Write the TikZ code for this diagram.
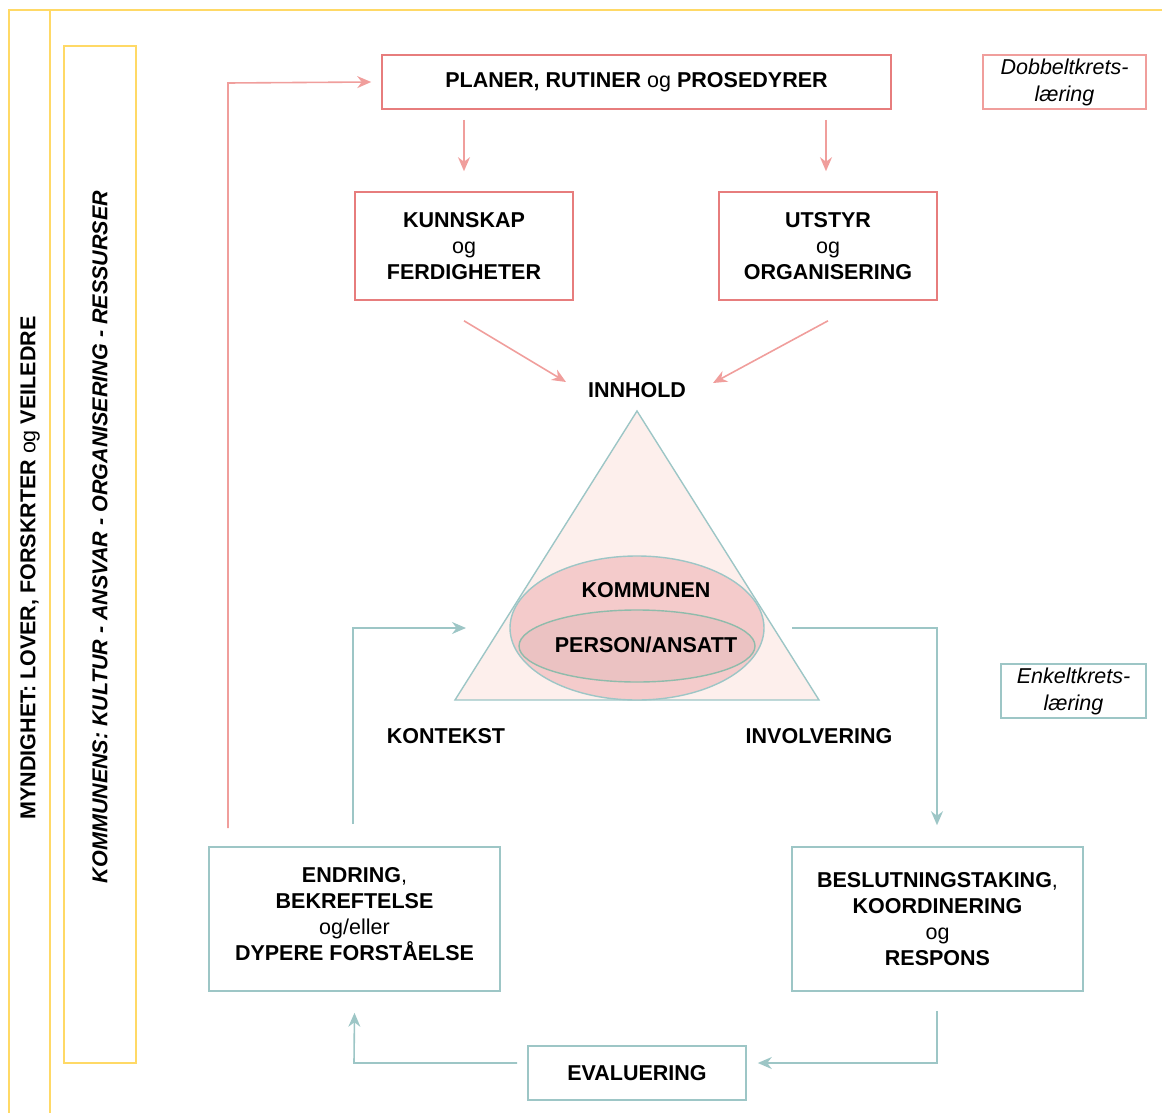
\documentclass[tikz,border=0pt]{standalone}
\usepackage{fontspec}
\setmainfont{Liberation Sans}
\usetikzlibrary{arrows.meta,shapes.geometric}
\definecolor{frameyellow}{HTML}{FFD966}
\definecolor{boxred}{HTML}{E77D7D}
\definecolor{arrowred}{HTML}{F09E9C}
\definecolor{tealline}{HTML}{9DC6C6}
\definecolor{trifill}{HTML}{FDEFEC}
\definecolor{outerfill}{HTML}{F4CBCB}
\definecolor{innerfill}{HTML}{EBC2C2}
\definecolor{innerline}{HTML}{8FBBAB}
\begin{document}
\begin{tikzpicture}[x=1pt,y=-1pt,
  every node/.style={font=\fontsize{21.5}{26}\selectfont, inner sep=0pt, align=center},
  redbox/.style={draw=boxred, line width=1.6pt, fill=white},
  tealbox/.style={draw=tealline, line width=1.6pt, fill=white},
  notebox/.style={line width=1.6pt, fill=white, font=\fontsize{21.5}{27}\selectfont\itshape},
  redarrow/.style={draw=arrowred, line width=1.6pt, -{Stealth[length=14pt,width=12pt]}},
  tealarrow/.style={draw=tealline, line width=1.6pt, -{Stealth[length=14pt,width=12pt]}},
  yellowline/.style={draw=frameyellow, line width=1.6pt}]
\useasboundingbox (0,0) rectangle (1162,1113);

% outer frames
\draw[yellowline] (9,1113) -- (9,10) -- (1162,10);
\draw[yellowline] (50,10) -- (50,1113);
\draw[yellowline] (64,46) rectangle (136,1063);
\node[rotate=90] (myndighet) at (30,568) {\textbf{MYNDIGHET: LOVER, FORSKRTER} og \textbf{VEILEDRE}};
\node[rotate=90] (kommunens) at (100,537) {\bfseries\itshape KOMMUNENS: KULTUR - ANSVAR - ORGANISERING - RESSURSER};

% upper boxes
\node[redbox, minimum width=509pt, minimum height=54pt] (planer) at (636.5,82) {\textbf{PLANER, RUTINER} og \textbf{PROSEDYRER}};
\node[redbox, minimum width=218pt, minimum height=108pt] (kunn) at (464,246) {\textbf{KUNNSKAP}\\og\\\textbf{FERDIGHETER}};
\node[redbox, minimum width=218pt, minimum height=108pt] (utstyr) at (828,246) {\textbf{UTSTYR}\\og\\\textbf{ORGANISERING}};
\node[notebox, draw=arrowred, minimum width=163pt, minimum height=54pt] (dobbel) at (1064.5,82) {Dobbeltkrets-\\læring};
\node[notebox, draw=tealline, minimum width=145pt, minimum height=54pt] (enkel) at (1073.5,691) {Enkeltkrets-\\læring};

\node (innhold) at (637,390) {\textbf{INNHOLD}};

% triangle with the two ellipses
\coordinate (apex) at (637,411);
\coordinate (bl) at (455,700);
\coordinate (br) at (819,700);
\draw[draw=tealline, line width=1.4pt, fill=trifill] (apex) -- (br) -- (bl) -- cycle;
\node[ellipse, draw=tealline, line width=1.4pt, fill=outerfill, minimum width=254pt, minimum height=144pt] (outer) at (637,628) {};
\node[ellipse, draw=innerline, line width=1.4pt, fill=innerfill, minimum width=236pt, minimum height=72pt] (inner) at (637,646) {};
\node (kommunen) at (646,590) {\textbf{KOMMUNEN}};
\node (person) at (646,645) {\textbf{PERSON/ANSATT}};

\node (kontekst) at (446,736) {\textbf{KONTEKST}};
\node (involv) at (819,736) {\textbf{INVOLVERING}};

% lower boxes
\node[tealbox, minimum width=291pt, minimum height=144pt] (endring) at (354.5,919) {};
\node (endringtext) at (354.5,914) {\textbf{ENDRING},\\\textbf{BEKREFTELSE}\\og/eller\\\textbf{DYPERE FORSTÅELSE}};
\node[tealbox, minimum width=291pt, minimum height=144pt] (beslut) at (937.5,919) {\textbf{BESLUTNINGSTAKING},\\\textbf{KOORDINERING}\\og\\\textbf{RESPONS}};
\node[tealbox, minimum width=218pt, minimum height=54pt] (eval) at (637,1073) {\textbf{EVALUERING}};

% red connectors
\draw[redarrow] ([yshift=-10pt]kunn.north |- planer.south) -- ([yshift=20pt]kunn.north);
\draw[redarrow] ([xshift=-2pt,yshift=-10pt]utstyr.north |- planer.south) -- ([xshift=-2pt,yshift=20pt]utstyr.north);
\coordinate (innL) at (566,382);
\coordinate (innR) at (713,383);
\draw[redarrow] ([yshift=-20pt]kunn.south) -- (innL);
\draw[redarrow] ([yshift=-20pt]utstyr.south) -- (innR);
\coordinate (redup) at (228,83);
\draw[redarrow] (228,828) -- (redup) -- ([xshift=-10pt]planer.west);

% teal connectors
\coordinate (ctxend) at (466,628);
\draw[tealarrow] ([xshift=-1.5pt,yshift=22pt]endring.north) -- (353,628) -- (ctxend);
\coordinate (invstart) at (792,628);
\draw[tealarrow] (invstart) -- (937,628) -- ([xshift=-0.5pt,yshift=21pt]beslut.north);
\draw[tealarrow] ([xshift=-0.5pt,yshift=-19pt]beslut.south) -- (937,1063) -- ([xshift=11pt,yshift=10pt]eval.east);
\draw[tealarrow] ([xshift=-10pt,yshift=10pt]eval.west) -- (354,1063) -- ([yshift=-21pt]endring.south);
\end{tikzpicture}
\end{document}
